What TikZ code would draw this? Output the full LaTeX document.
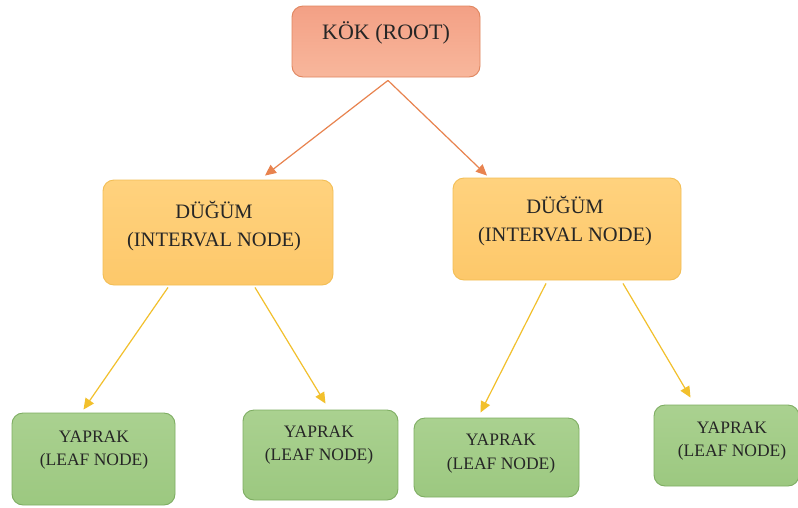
\documentclass[tikz,border=0pt]{standalone}
\usepackage{fontspec}
\setmainfont{Liberation Serif}
\newfontfamily\tmsfont{Liberation Serif}
\usetikzlibrary{arrows.meta,calc}
\definecolor{rootTop}{HTML}{F3A085}
\definecolor{rootBot}{HTML}{F8B79C}
\definecolor{rootLine}{HTML}{E0865F}
\definecolor{intTop}{HTML}{FFD27E}
\definecolor{intBot}{HTML}{FDC86A}
\definecolor{intLine}{HTML}{F3BE55}
\definecolor{leafTop}{HTML}{AAD190}
\definecolor{leafBot}{HTML}{9CC880}
\definecolor{leafLine}{HTML}{7EAD62}
\definecolor{arrOrange}{HTML}{E8834F}
\definecolor{arrYellow}{HTML}{F2C02C}
\definecolor{txt}{HTML}{262626}
\begin{document}
\begin{tikzpicture}[x=1pt,y=-1pt,
  boxbase/.style={draw, rounded corners=11pt, line width=0.9pt, inner sep=0pt},
  rootbox/.style={boxbase, draw=rootLine, top color=rootTop, bottom color=rootBot},
  intbox/.style={boxbase, draw=intLine, top color=intTop, bottom color=intBot},
  leafbox/.style={boxbase, draw=leafLine, top color=leafTop, bottom color=leafBot},
  roottext/.style={text=txt, font=\tmsfont\fontsize{22}{26}\selectfont},
  inttext/.style={text=txt, align=center, font=\tmsfont\fontsize{20.5}{28}\selectfont},
  leaftext/.style={text=txt, align=center, font=\tmsfont\fontsize{17.5}{23.5}\selectfont},
  oarrow/.style={draw=arrOrange, line width=1.2pt, -{Triangle[length=11pt,width=10pt]}, arrOrange},
  yarrow/.style={draw=arrYellow, line width=1.2pt, -{Triangle[length=11pt,width=10pt]}, arrYellow}
]
\useasboundingbox (0,0) rectangle (798,507);
\fill[white] (0,0) rectangle (798,507);

% boxes
\node[rootbox, minimum width=188pt, minimum height=71pt] (root) at (386,41.5) {};
\node[intbox, minimum width=230pt, minimum height=105pt] (int1) at (218,232.5) {};
\node[intbox, minimum width=228pt, minimum height=102pt] (int2) at (567,229) {};
\node[leafbox, minimum width=163pt, minimum height=92pt] (leaf1) at (93.5,459) {};
\node[leafbox, minimum width=155pt, minimum height=90pt] (leaf2) at (320.5,455) {};
\node[leafbox, minimum width=165pt, minimum height=79pt] (leaf3) at (496.5,457.5) {};
\node[leafbox, minimum width=145pt, minimum height=81pt] (leaf4) at (726.5,445.5) {};

% texts
\node[roottext] (troot) at (386,33) {KÖK (ROOT)};
\node[inttext] (tint1) at (214,226) {DÜĞÜM\\(INTERVAL NODE)};
\node[inttext] (tint2) at (565,221) {DÜĞÜM\\(INTERVAL NODE)};
\node[leaftext] (tleaf1) at (94,450) {YAPRAK\\(LEAF NODE)};
\node[leaftext] (tleaf2) at (319,445) {YAPRAK\\(LEAF NODE)};
\node[leaftext] (tleaf3) at (501,453.5) {YAPRAK\\(LEAF NODE)};
\node[leaftext] (tleaf4) at (732,441) {YAPRAK\\(LEAF NODE)};

% connectors
\coordinate (rs) at ($(root.south)+(2,3)$);
\draw[oarrow] (rs) -- ($(int1.north)+(47,-4)$);
\draw[oarrow] (rs) -- ($(int2.north)+(-80,-2)$);
\draw[yarrow] ($(int1.south)+(-50,2)$) -- ($(leaf1.north)+(-10,-3)$);
\draw[yarrow] ($(int1.south)+(37,2)$) -- ($(leaf2.north)+(5,-6)$);
\draw[yarrow] ($(int2.south)+(-21,3)$) -- ($(leaf3.north)+(-16,-5)$);
\draw[yarrow] ($(int2.south)+(56,3)$) -- ($(leaf4.north)+(-36,-7)$);
\end{tikzpicture}
\end{document}
